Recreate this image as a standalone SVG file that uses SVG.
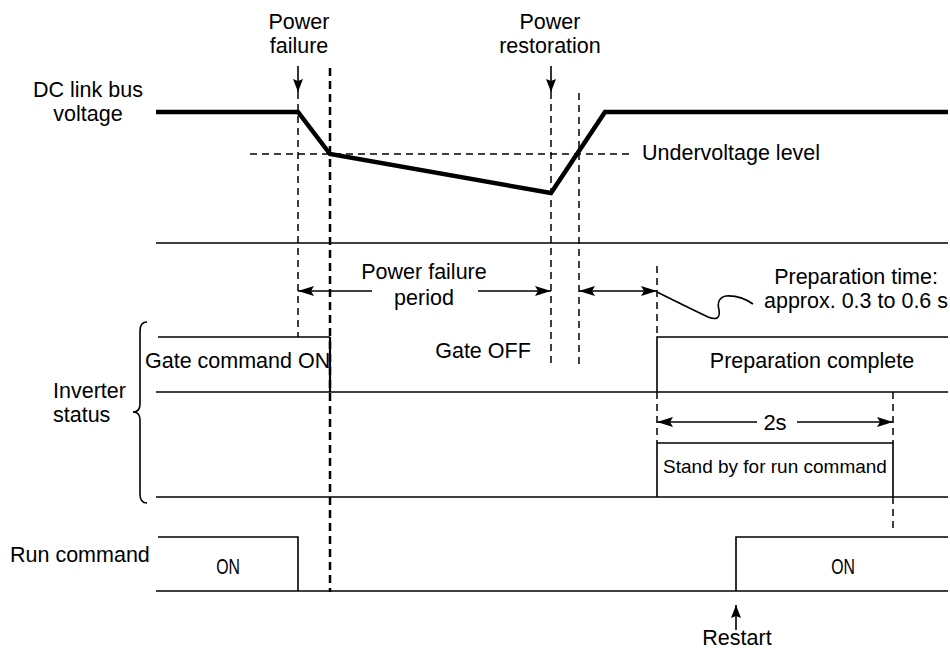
<svg xmlns="http://www.w3.org/2000/svg" width="950" height="650" viewBox="0 0 950 650">
<style>
text{font-family:"Liberation Sans",Arial,sans-serif;font-size:21.5px;fill:#000}
.m{text-anchor:middle}
.ln{stroke:#000;stroke-width:1.6;fill:none}
.thick{stroke:#000;stroke-width:4.5;fill:none;stroke-linejoin:miter}
.dash{stroke:#000;stroke-width:1.5;stroke-dasharray:7,5;fill:none}
.dashb{stroke:#000;stroke-width:2.5;stroke-dasharray:8,5;fill:none}
.arr{stroke:#000;stroke-width:1.6;fill:none;marker-end:url(#ah)}
.darr{stroke:#000;stroke-width:1.6;fill:none;marker-end:url(#ah);marker-start:url(#ah)}
.narrow{font-size:22px}
</style>
<defs>
<marker id="ah" markerUnits="userSpaceOnUse" markerWidth="18" markerHeight="12" refX="16" refY="5" orient="auto-start-reverse">
<path d="M0,0 L16,5 L0,10 L3,5 z" fill="#000"/>
</marker>
<marker id="sh" markerUnits="userSpaceOnUse" markerWidth="14" markerHeight="12" refX="13" refY="5" orient="auto">
<path d="M0,0 L13,5 L0,10 L2,5 z" fill="#000"/>
</marker>
</defs>

<g id="labels">
<text class="m" x="88" y="97">DC link bus</text>
<text class="m" x="88" y="121">voltage</text>
<text class="m" x="299" y="29">Power</text>
<text class="m" x="299" y="53">failure</text>
<text class="m" x="550" y="29">Power</text>
<text class="m" x="550" y="53">restoration</text>
<text x="642" y="160">Undervoltage level</text>
<text x="53" y="398">Inverter</text>
<text x="53" y="422">status</text>
<text x="10" y="562">Run command</text>
</g>

<g id="voltage">
<polyline class="thick" points="156,112 298,112 330,154 551,193 605,112 948,112"/>
<line class="dash" x1="250" y1="154" x2="632" y2="154"/>
</g>

<g id="timing-lines">
<line class="ln" x1="156" y1="243" x2="948" y2="243"/>
<line class="ln" x1="156" y1="392" x2="948" y2="392"/>
<line class="ln" x1="156" y1="497" x2="948" y2="497"/>
<line class="ln" x1="156" y1="591" x2="948" y2="591"/>
</g>

<g id="gate-command-on">
<polyline class="ln" points="158,337 330,337"/>
<line x1="330" y1="337" x2="330" y2="392" stroke="#000" stroke-width="2.2"/>
<text x="145" y="368">Gate command ON</text>
</g>

<g id="gate-off">
<text class="m" x="483" y="358">Gate OFF</text>
</g>

<g id="preparation-complete">
<polyline class="ln" points="657,392 657,337 948,337"/>
<text class="m" x="812" y="368">Preparation complete</text>
</g>

<g id="standby">
<polyline class="ln" points="657,497 657,443 893,443 893,497"/>
<text class="m" x="775" y="473" style="font-size:19px">Stand by for run command</text>
</g>

<g id="run-command">
<polyline class="ln" points="158,537 298,537 298,591"/>
<text class="m narrow" x="0" y="0" transform="translate(228,574) scale(0.72,1)">ON</text>
<polyline class="ln" points="736,591 736,537 948,537"/>
<text class="m narrow" x="0" y="0" transform="translate(843,574) scale(0.72,1)">ON</text>
</g>

<g id="brace">
<path class="ln" d="M147,322 Q140,322 140,331 L140,404 Q140,412 133,412 Q140,412 140,420 L140,494 Q140,503 147,503"/>
</g>

<g id="connectors">
<line class="dash" x1="298" y1="92" x2="298" y2="337"/>
<line class="dashb" x1="330" y1="68" x2="330" y2="592"/>
<line class="dash" x1="551" y1="92" x2="551" y2="364"/>
<line class="dash" x1="579" y1="93" x2="579" y2="364"/>
<line class="dash" x1="657" y1="266" x2="657" y2="337"/>
<line class="dash" x1="657" y1="392" x2="657" y2="443"/>
<line class="dash" x1="893" y1="392" x2="893" y2="443"/>
<line class="dash" x1="893" y1="497" x2="893" y2="533"/>
<line x1="298" y1="66" x2="298" y2="92" stroke="#000" stroke-width="1.6" marker-end="url(#sh)"/>
<line x1="551" y1="66" x2="551" y2="92" stroke="#000" stroke-width="1.6" marker-end="url(#sh)"/>
<line x1="736" y1="630" x2="736" y2="605" stroke="#000" stroke-width="1.6" marker-end="url(#sh)"/>
<line class="arr" x1="372" y1="291" x2="298" y2="291"/>
<line class="arr" x1="478" y1="291" x2="551" y2="291"/>
<line class="darr" x1="579" y1="291" x2="657" y2="291"/>
<line class="arr" x1="757" y1="422" x2="657" y2="422"/>
<line class="arr" x1="797" y1="422" x2="893" y2="422"/>
<path class="ln" stroke-width="1.4" d="M657,292 Q685,306 708,317 Q721,322 719,310 Q716,298 726,296 Q740,295 753,304"/>
</g>

<g id="annotations">
<text class="m" x="424" y="279">Power failure</text>
<text class="m" x="424" y="305">period</text>
<text class="m" x="856" y="284">Preparation time:</text>
<text class="m" x="856" y="308">approx. 0.3 to 0.6 s</text>
<text class="m narrow" x="775" y="430">2s</text>
<text class="m" x="737" y="645">Restart</text>
</g>
</svg>
